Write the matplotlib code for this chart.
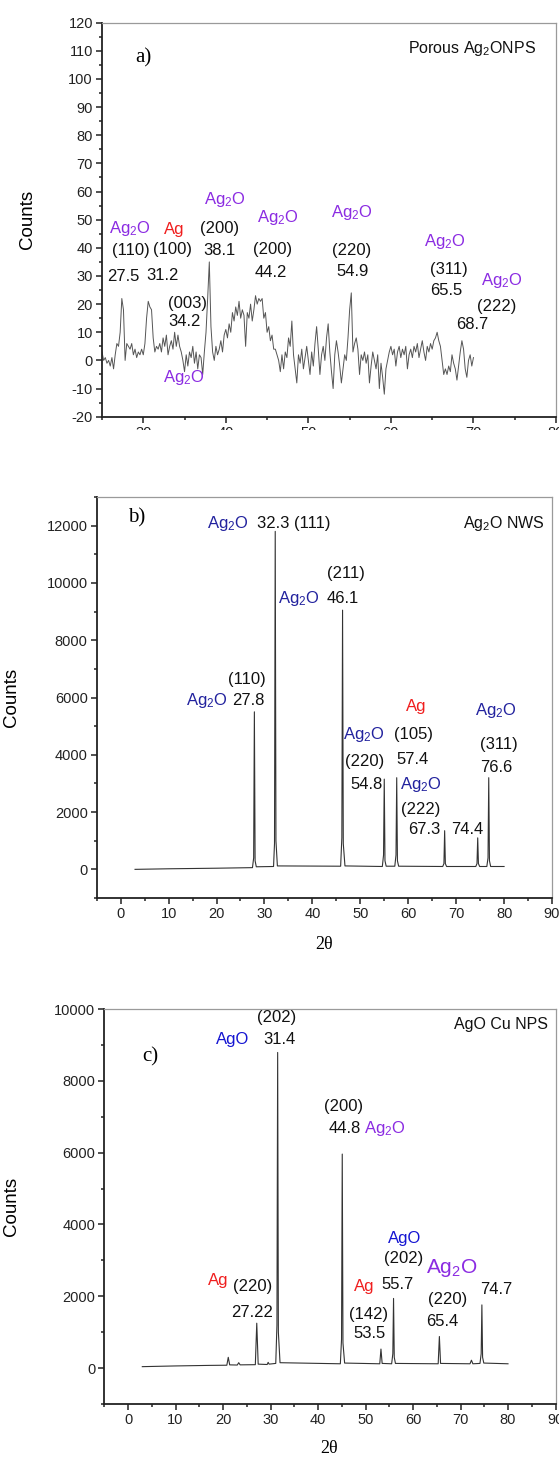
import numpy as np
import matplotlib
matplotlib.use('Agg')
import matplotlib.pyplot as plt
from matplotlib.ticker import MultipleLocator
from matplotlib.patches import Rectangle

plt.rcParams['font.family'] = ['Liberation Sans', 'DejaVu Sans']
plt.rcParams['mathtext.fontset'] = 'custom'
plt.rcParams['mathtext.rm'] = 'Liberation Sans'
plt.rcParams['mathtext.it'] = 'Liberation Sans'
plt.rcParams['mathtext.default'] = 'regular'
plt.rcParams['axes.unicode_minus'] = False

# ---- data ----
# a) porous Ag2O NPs, scan 25..70 deg, 0.2 deg step (5 values per degree)
counts_a = [
    3, 0, 1, -1, 0,        # 25
    -2, 1, -3, 2, 6,       # 26
    5, 10, 22, 18, 0,      # 27
    6, 5, 4, 6, 2,         # 28
    4, 1, 3, 2, 4,         # 29
    2, 6, 15, 21, 19,      # 30
    18, 8, 3, 5, 4,        # 31
    6, 3, 8, 5, 9,         # 32
    2, 5, 7, 4, 10,        # 33
    5, 9, 5, 3, 0,         # 34
    -4, 2, -2, 3, 1,       # 35
    5, -1, 3, -3, 2,       # 36
    1, -5, 3, 10, 22,      # 37
    35, 12, 3, 0, 5,       # 38
    2, 4, 7, 3, 9,         # 39
    11, 8, 13, 10, 17,     # 40
    14, 19, 16, 21, 15,    # 41
    18, 16, 5, 17, 15,     # 42
    20, 14, 18, 23, 20,    # 43
    22, 21, 22, 15, 17,    # 44
    10, 12, 7, 9, 4,       # 45
    4, 2, 0, -4, 2,        # 46
    -3, 3, 1, 8, 5,        # 47
    14, 2, -3, -8, 2,      # 48
    -1, 4, -3, 1, 5,       # 49
    0, -5, 3, -2, 6,       # 50
    12, 4, -5, 2, 5,       # 51
    0, 8, 13, 3, -4,       # 52
    -10, 2, 7, 3, -2,      # 53
    -8, -3, 2, 0, 8,       # 54
    18, 24, 3, 6, 8,       # 55
    4, -5, 2, 0, 3,        # 56
    -1, 2, -8, -2, 3,      # 57
    0, -3, 2, -10, -1,     # 58
    -6, -12, -3, 0, 3,     # 59
    5, 2, 4, -2, 3,        # 60
    5, 1, 4, 2, 5,         # 61
    -3, 2, 4, 1, 5,        # 62
    3, 6, 1, 4, 7,         # 63
    3, 0, 5, 3, 6,         # 64
    4, 7, 8, 10, 7,        # 65
    5, 0, -5, -3, -5,      # 66
    -2, -4, 2, -1, -3,     # 67
    -7, -2, 3, 7, 4,       # 68
    -3, -6, 0, 2, -2,      # 69
    1,                     # 70
]
two_theta_a = np.linspace(25, 70, len(counts_a))

# b) Ag2O NWs
two_theta_b = [3.0, 10.0, 20.0,
               27.5, 27.75, 27.9, 28.05, 28.3,
               31.9, 32.1, 32.25, 32.4, 32.7,
               45.9, 46.15, 46.3, 46.45, 46.8,
               54.6, 54.85, 55.0, 55.15, 55.4,
               57.2, 57.45, 57.6, 57.75, 58.0,
               67.2, 67.45, 67.6, 67.75, 68.0,
               74.1, 74.35, 74.5, 74.65, 74.9,
               76.4, 76.65, 76.8, 76.95, 77.2,
               80.0]
counts_b = [0, 20, 40,
            60, 400, 5500, 300, 90,
            100, 900, 11800, 1000, 120,
            110, 1100, 9050, 900, 120,
            100, 500, 3150, 300, 110,
            110, 500, 3200, 300, 110,
            100, 200, 1350, 200, 100,
            100, 200, 1100, 200, 100,
            100, 400, 3200, 300, 100,
            100]

# c) AgO Cu NPs
two_theta_c = [3.0, 10.0, 17.0,
               20.8, 21.1, 21.4,
               23.0, 23.3, 23.6,
               26.8, 27.1, 27.4,
               29.3, 29.5, 29.7,
               31.1, 31.35, 31.5, 31.65, 32.0,
               44.7, 44.95, 45.1, 45.25, 45.6,
               53.0, 53.25, 53.5,
               55.5, 55.75, 55.9, 56.05, 56.3,
               65.3, 65.55, 65.8,
               72.0, 72.3, 72.6,
               74.1, 74.35, 74.5, 74.65, 74.9,
               80.0]
counts_c = [40, 60, 75,
            80, 300, 90,
            85, 150, 90,
            95, 1250, 110,
            100, 160, 110,
            130, 1200, 8790, 1000, 150,
            120, 800, 5960, 700, 140,
            120, 530, 130,
            120, 400, 1940, 300, 130,
            120, 880, 130,
            120, 220, 120,
            130, 400, 1760, 300, 140,
            120]

PURPLE = '#8B2BE2'
RED = '#F01E1E'
NAVY = '#22229E'
BLUE = '#1414D2'
K = '#111111'

# (text, x, y, color)
labels_a = [
    ('Ag$_2$O', 28.35, 47.0, PURPLE), ('(110)', 28.5, 39.0, K), ('27.5', 27.6, 29.7, K),
    ('Ag', 33.8, 46.5, RED), ('(100)', 33.5, 39.4, K), ('31.2', 32.3, 30.0, K),
    ('Ag$_2$O', 39.9, 57.3, PURPLE), ('(200)', 39.3, 46.7, K), ('38.1', 39.2, 39.0, K),
    ('Ag$_2$O', 46.3, 50.7, PURPLE), ('(200)', 45.7, 39.3, K), ('44.2', 45.4, 31.4, K),
    ('Ag$_2$O', 55.2, 52.7, PURPLE), ('(220)', 55.2, 39.0, K), ('54.9', 55.4, 31.7, K),
    ('Ag$_2$O', 66.5, 42.4, PURPLE), ('(311)', 67.0, 32.2, K), ('65.5', 66.7, 24.9, K),
    ('Ag$_2$O', 73.4, 28.4, PURPLE), ('(222)', 72.8, 19.2, K), ('68.7', 69.8, 12.8, K),
    ('(003)', 35.3, 20.1, K), ('34.2', 35.0, 14.0, K), ('Ag$_2$O', 34.9, -5.9, PURPLE),
]
labels_b = [
    ('(211)', 47.1, 10340, K),
    ('(110)', 26.4, 6640, K), ('Ag$_2$O', 17.9, 5900, NAVY), ('27.8', 26.7, 5900, K),
    ('Ag', 61.7, 5700, RED), ('(105)', 61.0, 4710, K), ('57.4', 61.0, 3840, K),
    ('Ag$_2$O', 78.3, 5530, NAVY), ('(311)', 79.0, 4360, K), ('76.6', 78.3, 3540, K),
    ('Ag$_2$O', 50.8, 4710, NAVY), ('(220)', 50.8, 3780, K), ('54.8', 51.2, 2960, K),
    ('Ag$_2$O', 62.7, 2960, NAVY), ('(222)', 62.7, 2080, K), ('67.3', 63.3, 1380, K),
    ('74.4', 72.3, 1380, K),
]
labels_c = [
    ('(202)', 31.2, 9750, K), ('AgO', 22.1, 9160, BLUE), ('31.4', 31.8, 9160, K),
    ('(200)', 45.4, 7280, K),
    ('Ag', 18.9, 2450, RED), ('(220)', 26.2, 2270, K), ('27.22', 26.2, 1550, K),
    ('Ag', 49.8, 2270, RED), ('(142)', 50.6, 1480, K), ('53.5', 50.9, 950, K),
    ('AgO', 58.2, 3610, BLUE), ('(202)', 58.0, 3060, K), ('55.7', 56.8, 2340, K),
    ('(220)', 67.2, 1900, K), ('65.4', 66.1, 1310, K), ('74.7', 77.5, 2190, K),
]

W, H = 559, 1460
fig = plt.figure(figsize=(W / 100, H / 100), dpi=100)


def make_axes(left, right, top, bottom):
    return fig.add_axes([left / W, 1 - bottom / H, (right - left) / W, (bottom - top) / H])


def style(ax, xlim, ylim, xmaj, ymaj, ymin):
    ax.set_xlim(*xlim)
    ax.set_ylim(*ylim)
    ax.xaxis.set_major_locator(MultipleLocator(xmaj))
    ax.xaxis.set_minor_locator(MultipleLocator(xmaj / 2))
    ax.yaxis.set_major_locator(MultipleLocator(ymaj))
    ax.yaxis.set_minor_locator(MultipleLocator(ymin))
    for s in ['top', 'right']:
        ax.spines[s].set_color('#9a9a9a')
        ax.spines[s].set_linewidth(0.9)
    for s in ['left', 'bottom']:
        ax.spines[s].set_color('#222222')
        ax.spines[s].set_linewidth(1.3)
    ax.tick_params(which='both', direction='out', top=False, right=False,
                   colors='#222222', labelsize=10.5, width=1.1, pad=2)
    ax.tick_params(which='major', length=4.5)
    ax.tick_params(which='minor', length=2.5)


def put_labels(ax, labels, size=12):
    for txt, x, y, col in labels:
        ax.text(x, y, txt, color=col, fontsize=size, ha='center', va='center')


# ---- panel a ----
ax = make_axes(102, 556, 22.7, 416.7)
ax.plot(two_theta_a, counts_a, color='#555555', lw=0.7)
style(ax, (25, 80), (-20, 120), 10, 10, 5)
ax.set_ylabel('Counts', fontsize=13.5)
ax.yaxis.set_label_coords(-0.145, 0.5)
put_labels(ax, labels_a)
ax.text(77.6, 111, 'Porous Ag$_2$ONPS', fontsize=11.5, ha='right', va='center', color=K)
ax.text(30.0, 107.4, 'a)', fontsize=15, ha='center', va='center', family='Liberation Serif')
# lower half of the x tick labels is cut off in the original figure
fig.add_artist(Rectangle((0, 1 - 475 / H), 1, 45 / H, transform=fig.transFigure,
                         facecolor='white', edgecolor='none', zorder=20))

# ---- panel b ----
ax = make_axes(96.7, 552, 497, 898)
ax.plot(two_theta_b, counts_b, color='#333333', lw=0.8)
style(ax, (-5, 90), (-1000, 13000), 10, 2000, 1000)
ax.set_ylabel('Counts', fontsize=13.5)
ax.yaxis.set_label_coords(-0.168, 0.5)
ax.set_xlabel('2θ', fontsize=13, family='Liberation Serif', va='center')
ax.xaxis.set_label_coords(0.499, -0.115)
put_labels(ax, labels_b)
ax.text(26.6, 12090, 'Ag$_2$O', color=NAVY, fontsize=12, ha='right', va='center')
ax.text(28.5, 12090, '32.3 (111)', color=K, fontsize=12, ha='left', va='center')
ax.text(41.4, 9460, 'Ag$_2$O', color=NAVY, fontsize=12, ha='right', va='center')
ax.text(42.9, 9460, '46.1', color=K, fontsize=12, ha='left', va='center')
ax.text(88.5, 12090, 'Ag$_2$O NWS', fontsize=11.5, ha='right', va='center', color=K)
ax.text(3.4, 12270, 'b)', fontsize=15, ha='center', va='center', family='Liberation Serif')

# ---- panel c ----
ax = make_axes(104.3, 555.5, 1009, 1404)
ax.plot(two_theta_c, counts_c, color='#333333', lw=0.8)
style(ax, (-5, 90), (-1000, 10000), 10, 2000, 1000)
ax.set_ylabel('Counts', fontsize=13.5)
ax.yaxis.set_label_coords(-0.187, 0.5)
ax.set_xlabel('2θ', fontsize=13, family='Liberation Serif', va='center')
ax.xaxis.set_label_coords(0.498, -0.112)
put_labels(ax, labels_c)
ax.text(42.2, 6680, '44.8', color=K, fontsize=12, ha='left', va='center')
ax.text(49.7, 6680, 'Ag$_2$O', color=PURPLE, fontsize=12, ha='left', va='center')
ax.text(68.2, 2780, 'Ag$_2$O', color=PURPLE, fontsize=15, ha='center', va='center')
ax.text(88.5, 9560, 'AgO Cu NPS', fontsize=11.5, ha='right', va='center', color=K)
ax.text(4.7, 8680, 'c)', fontsize=15, ha='center', va='center', family='Liberation Serif')

fig.savefig('out.png', dpi=100, facecolor='white')
